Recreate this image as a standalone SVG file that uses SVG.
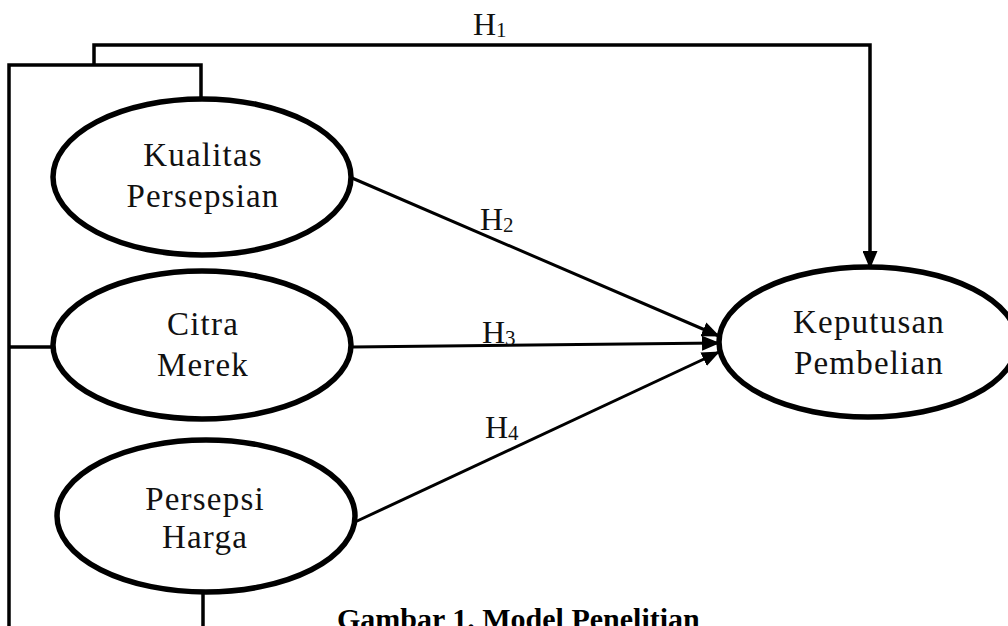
<svg xmlns="http://www.w3.org/2000/svg" width="1008" height="626" viewBox="0 0 1008 626">
<style>
.node{fill:#fff;stroke:#000;stroke-width:5.5}
.t{font-family:"Liberation Serif","Times New Roman",serif;font-size:33px;letter-spacing:1.2px;fill:#111;text-anchor:middle}
.lbl{font-family:"Liberation Serif","Times New Roman",serif;font-size:32px;fill:#111}
.sub{font-size:21px}
.ln{fill:none;stroke:#000;stroke-width:3.5}
.ar{fill:none;stroke:#000;stroke-width:3}
.cap{font-family:"Liberation Serif","Times New Roman",serif;font-size:30px;font-weight:bold;fill:#000}
</style>
<defs>
<marker id="ah" markerWidth="18" markerHeight="15" refX="17" refY="7.5" orient="auto" markerUnits="userSpaceOnUse">
<path d="M0,0 L18,7.5 L0,15 Z" fill="#000"/>
</marker>
</defs>
<rect width="1008" height="626" fill="#fff"/>
<g id="connectors">
<polyline class="ln" points="9,626 9,65 201,65 201,99"/>
<line class="ln" x1="9" y1="347" x2="53" y2="347"/>
<line class="ln" x1="203" y1="592" x2="203" y2="626"/>
<polyline class="ln" points="94,65 94,45 870,45 870,268" marker-end="url(#ah)"/>
<line class="ar" x1="352" y1="178" x2="719" y2="336" marker-end="url(#ah)"/>
<line class="ar" x1="352" y1="347" x2="719" y2="343" marker-end="url(#ah)"/>
<line class="ar" x1="355" y1="522" x2="719" y2="352" marker-end="url(#ah)"/>
<text class="lbl" x="473" y="35">H<tspan class="sub" dy="2">1</tspan></text>
<text class="lbl" x="480" y="230">H<tspan class="sub" dy="2">2</tspan></text>
<text class="lbl" x="482" y="343">H<tspan class="sub" dy="2">3</tspan></text>
<text class="lbl" x="485" y="438">H<tspan class="sub" dy="2">4</tspan></text>
</g>
<g id="kualitas">
<ellipse class="node" cx="202" cy="177" rx="149" ry="78"/>
<text class="t" x="203" y="166">Kualitas</text>
<text class="t" x="203" y="207">Persepsian</text>
</g>
<g id="citra">
<ellipse class="node" cx="202" cy="345" rx="149" ry="74"/>
<text class="t" x="203" y="335">Citra</text>
<text class="t" x="203" y="376">Merek</text>
</g>
<g id="harga">
<ellipse class="node" cx="206" cy="516" rx="149" ry="76"/>
<text class="t" x="205" y="510">Persepsi</text>
<text class="t" x="205" y="548">Harga</text>
</g>
<g id="keputusan">
<ellipse class="node" cx="868" cy="342" rx="149" ry="75"/>
<text class="t" x="869" y="333">Keputusan</text>
<text class="t" x="869" y="374">Pembelian</text>
</g>
<text class="cap" x="337" y="629">Gambar 1. Model Penelitian</text>
</svg>
